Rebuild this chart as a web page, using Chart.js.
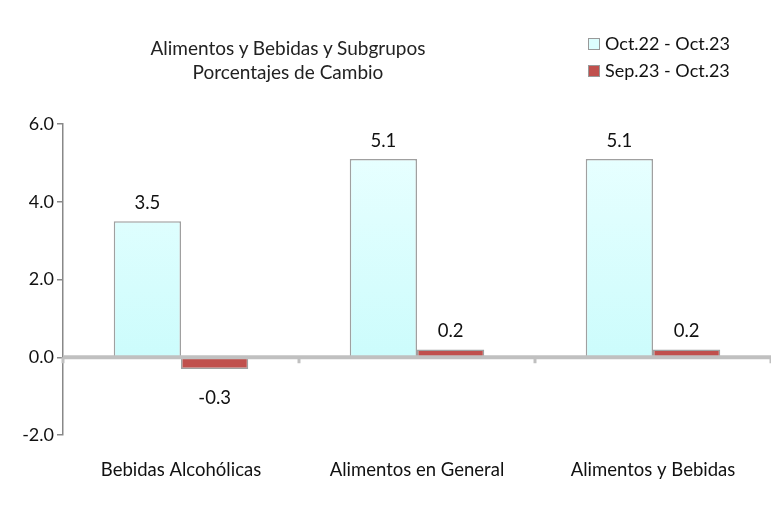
<!DOCTYPE html>
<html>
<head>
<meta charset="utf-8">
<script src="https://cdn.jsdelivr.net/npm/chart.js@4/dist/chart.umd.min.js"></script>
<style>
  body { margin: 0; background: #fff; font-family: Lato, "Noto Sans", sans-serif; }
  #wrap { position: relative; width: 771px; height: 508px; }
  #title { position: absolute; left: 88px; width: 400px; top: 36px; text-align: center; font-size: 19px; line-height: 24px; color: #222; }
  #legend { position: absolute; left: 588px; top: 31px; font-size: 18px; color: #111; }
  #legend div { height: 27px; line-height: 24px; white-space: nowrap; }
  #legend span.box { display: inline-block; width: 10px; height: 10px; border: 1.5px solid #999; margin-right: 5px; vertical-align: 0px; }
</style>
</head>
<body>
<div id="wrap">
  <canvas id="chart" width="771" height="508"></canvas>
  <div id="title">Alimentos y Bebidas y Subgrupos<br>Porcentajes de Cambio</div>
  <div id="legend">
    <div><span class="box" style="background:#dcfdfd"></span>Oct.22 - Oct.23</div>
    <div><span class="box" style="background:#c0504d"></span>Sep.23 - Oct.23</div>
  </div>
</div>
<script>
// Datos
const categories = ['Bebidas Alcohólicas', 'Alimentos en General', 'Alimentos y Bebidas'];
const annualChange = [3.5, 5.1, 5.1];    // Oct.22 - Oct.23
const monthlyChange = [-0.3, 0.2, 0.2];  // Sep.23 - Oct.23
const yTicks = [-2, 0, 2, 4, 6];

// zero line, category tick marks and value labels
const overlay = {
    id: 'overlay',
    afterDatasetsDraw(chart) {
        const { ctx, scales: { x, y } } = chart;
        const y0 = y.getPixelForValue(0);
        ctx.save();
        ctx.strokeStyle = '#c0c0c0';
        ctx.lineWidth = 4;
        ctx.beginPath();
        ctx.moveTo(chart.chartArea.left, y0);
        ctx.lineTo(chart.chartArea.right, y0);
        ctx.stroke();
        ctx.lineWidth = 3;
        for (let i = 0; i <= categories.length; i++) {
            const px = x.getPixelForValue(i - 0.5);
            ctx.beginPath();
            ctx.moveTo(px, y0);
            ctx.lineTo(px, y0 + 6);
            ctx.stroke();
        }
        ctx.fillStyle = '#111';
        ctx.font = '18.5px Lato';
        ctx.textAlign = 'center';
        ctx.textBaseline = 'middle';
        chart.data.datasets.forEach((ds, di) => {
            chart.getDatasetMeta(di).data.forEach((bar, i) => {
                const v = ds.data[i];
                const ty = v >= 0 ? bar.y - 18 : bar.y + 29;
                ctx.fillText(v.toFixed(1), bar.x, ty);
            });
        });
        ctx.restore();
    }
};

const ctx = document.getElementById('chart').getContext('2d');
const grad = ctx.createLinearGradient(0, 150, 0, 357);
grad.addColorStop(0, '#e8ffff');
grad.addColorStop(1, '#ccfcfc');

new Chart(ctx, {
    type: 'bar',
    data: {
        labels: categories,
        datasets: [{
            label: 'Oct.22 - Oct.23',
            data: annualChange,
            backgroundColor: grad,
            borderColor: '#a0a0a0',
            borderWidth: 1.5
        }, {
            label: 'Sep.23 - Oct.23',
            data: monthlyChange,
            backgroundColor: '#c0504d',
            borderColor: '#a0a0a0',
            borderWidth: 1.5
        }]
    },
    options: {
        responsive: false,
        animation: false,
        layout: { padding: { top: 124, right: 0, left: 0, bottom: 0 } },
        datasets: { bar: { categoryPercentage: 0.57, barPercentage: 1 } },
        plugins: { legend: { display: false }, tooltip: { enabled: false } },
        scales: {
            x: {
                grid: { display: false },
                border: { display: false },
                ticks: { color: '#111', font: { family: 'Lato', size: 18.5 }, padding: 16 },
                afterFit: s => { s.height = 73; }
            },
            y: {
                min: -2,
                max: 6,
                afterBuildTicks: s => { s.ticks = yTicks.map(v => ({ value: v })); },
                afterFit: s => { s.width = 63; },
                grid: { drawOnChartArea: false, color: '#888', tickLength: 6, lineWidth: 1.5 },
                border: { color: '#888', width: 1.5 },
                ticks: {
                    color: '#111',
                    padding: 3,
                    font: { family: 'Lato', size: 18 },
                    callback: v => v.toFixed(1)
                }
            }
        }
    },
    plugins: [overlay]
});
</script>
</body>
</html>
